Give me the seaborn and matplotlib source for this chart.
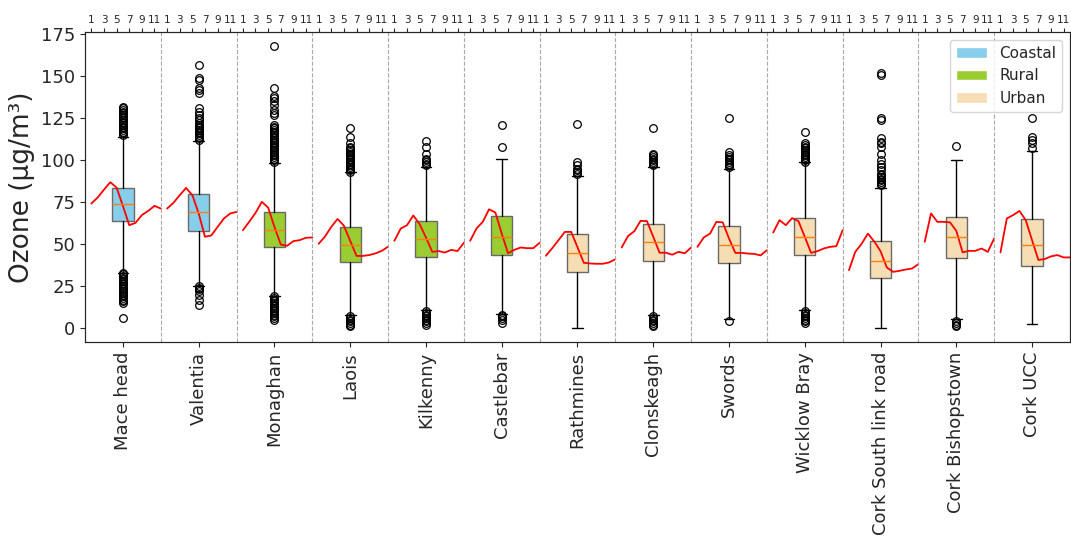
import numpy as np
import pandas as pd
import matplotlib
matplotlib.use("Agg")
import matplotlib.pyplot as plt
from matplotlib.patches import Patch
import seaborn as sns

sns.set_style("ticks")

# Stations and their site type
stations = ['Mace head', 'Valentia', 'Monaghan', 'Laois', 'Kilkenny', 'Castlebar',
            'Rathmines', 'Clonskeagh', 'Swords', 'Wicklow Bray',
            'Cork South link road', 'Cork Bishopstown', 'Cork UCC']
station_type = ['Coastal', 'Coastal', 'Rural', 'Rural', 'Rural', 'Rural',
                'Urban', 'Urban', 'Urban', 'Urban', 'Urban', 'Urban', 'Urban']
type_colors = {'Coastal': 'skyblue', 'Rural': 'yellowgreen', 'Urban': 'wheat'}

# Box summaries (ug/m3)
q1 = [63.7, 58.1, 48.6, 39.5, 42.1, 43.3, 33.5, 39.7, 38.5, 43.3, 29.6, 41.5, 37.1]
med = [74.2, 68.9, 58.3, 49.4, 53.0, 54.4, 44.6, 51.2, 49.6, 54.4, 40.0, 54.0, 49.4]
q3 = [83.5, 79.6, 68.9, 60.5, 63.9, 66.7, 56.3, 62.3, 61.1, 65.3, 52.0, 65.9, 64.7]
whislo = [33.1, 25.2, 19.2, 7.7, 10.5, 8.5, 0.0, 7.5, 5.2, 10.7, 0.0, 5.2, 2.6]
whishi = [114.0, 111.3, 98.4, 92.7, 96.2, 100.8, 90.7, 96.0, 94.8, 98.8, 83.7, 100.4, 105.8]

fliers = [
    [115, 116, 117, 118, 119, 120, 121, 122, 123, 124, 125, 126, 127, 128, 129, 130, 131, 132,
     6, 15, 16, 17, 18, 19, 20, 21, 22, 23, 24, 25, 26, 27, 28, 29, 30, 31, 32, 33],
    [112, 113, 114, 115, 116, 117, 118, 119, 120, 121, 122, 124, 125, 127, 129, 131,
     140, 142, 143, 148, 149, 157, 13.5, 17, 20, 22, 23, 24, 25],
    [99, 100, 101, 102, 103, 104, 105, 106, 107, 108, 109, 110, 111, 112, 113, 114, 115,
     116, 117, 118, 119, 120, 121, 127, 128, 130, 133, 135, 137, 138, 143, 168,
     5, 6, 7, 8, 9, 10, 11, 12, 13, 14, 15, 16, 17, 18, 19],
    [93, 94, 95, 96, 97, 98, 99, 100, 101, 102, 103, 104, 105, 106, 107, 108, 110, 114, 119,
     1.5, 2, 3, 4, 5, 6, 7],
    [97, 98, 99, 100, 101, 104, 108, 111.5, 2, 3, 4, 5, 6, 7, 8, 9, 10],
    [108, 121, 3, 5, 6, 7, 8],
    [92, 93, 94, 95, 97, 99, 121.5],
    [97, 98, 99, 100, 101, 102, 103, 104, 119, 1, 2, 3, 4, 5, 6, 7],
    [96, 97, 98, 99, 100, 101, 102, 103, 105, 125, 4],
    [99, 100, 101, 102, 103, 104, 105, 106, 107, 108, 109, 110, 117,
     3, 4, 5, 6, 7, 8, 9, 10],
    [85, 86, 87, 88, 89, 90, 91, 92, 94, 96, 98, 100, 104, 108, 110, 111, 113, 124, 125, 150.5, 152],
    [108.5, 1, 2, 3, 4],
    [107, 110, 112, 114, 125],
]

# Monthly mean ozone, Jan..Dec, per station
monthly_means = [
    [74.2, 77.8, 82.5, 86.9, 83.7, 72.8, 61.3, 62.7, 67.3, 69.8, 72.8, 71.2],
    [71.2, 74.6, 79.2, 83.5, 79.2, 68.3, 54.4, 55.2, 60.3, 65.3, 68.3, 69.2],
    [58.3, 63.3, 68.6, 75.2, 71.8, 60.3, 49.8, 49.0, 51.8, 52.4, 53.8, 54.0],
    [50.2, 54.5, 60.3, 65.0, 61.0, 52.0, 43.0, 43.0, 43.5, 44.5, 46.0, 48.5],
    [52.0, 59.3, 61.3, 67.1, 61.9, 54.0, 45.4, 45.9, 45.0, 46.6, 45.9, 50.8],
    [52.0, 59.3, 63.3, 70.8, 68.8, 56.3, 44.6, 46.6, 48.0, 47.6, 47.6, 50.8],
    [43.1, 47.6, 52.4, 57.3, 57.3, 48.2, 38.9, 38.5, 38.3, 38.3, 39.1, 41.0],
    [48.0, 54.8, 57.7, 63.9, 63.7, 54.4, 44.9, 44.9, 43.7, 45.4, 44.6, 48.0],
    [48.4, 54.0, 56.3, 63.3, 63.0, 53.4, 44.8, 44.8, 44.4, 44.2, 43.3, 46.4],
    [56.9, 64.3, 61.3, 65.5, 63.7, 54.4, 44.8, 45.8, 47.4, 48.4, 48.8, 58.3],
    [34.5, 45.4, 50.2, 56.3, 51.6, 45.8, 36.1, 33.5, 34.1, 34.9, 35.5, 38.1],
    [51.4, 68.3, 63.3, 63.3, 63.0, 58.0, 45.1, 46.0, 46.0, 47.4, 45.4, 53.4],
    [45.1, 65.3, 67.3, 69.8, 64.3, 52.4, 40.6, 41.1, 42.7, 43.5, 42.1, 42.1],
]
months = list(range(1, 13))
month_labels = [1, 3, 5, 7, 9, 11]

fig, ax = plt.subplots(figsize=(10.71, 5.38), dpi=100)
fig.subplots_adjust(left=0.0794, right=0.999, bottom=0.364, top=0.9405)

# boxplots from the summary stats
stats = []
for i, name in enumerate(stations):
    stats.append(dict(label=name, q1=q1[i], med=med[i], q3=q3[i],
                      whislo=whislo[i], whishi=whishi[i], fliers=fliers[i]))
bp = ax.bxp(stats, positions=range(len(stations)), widths=0.28, patch_artist=True,
            boxprops=dict(edgecolor='dimgray', linewidth=1),
            medianprops=dict(color='tab:orange', linewidth=1),
            whiskerprops=dict(color='black', linewidth=1),
            capprops=dict(color='black', linewidth=1),
            flierprops=dict(marker='o', markerfacecolor='none', markeredgecolor='black',
                            markersize=5.5, markeredgewidth=0.9))
for patch, t in zip(bp['boxes'], station_type):
    patch.set_facecolor(type_colors[t])

# monthly mean lines, one per station, spread across each station's slot
rows = []
for i, name in enumerate(stations):
    for m, v in zip(months, monthly_means[i]):
        rows.append({'station': name, 'pos': i - 0.5 + m / 12, 'ozone': v})
df = pd.DataFrame(rows)
sns.lineplot(data=df, x='pos', y='ozone', units='station', estimator=None,
             color='red', linewidth=1.3, ax=ax, legend=False)

for k in range(len(stations) - 1):
    ax.axvline(k + 0.5, color='darkgray', linestyle='--', linewidth=0.8)

ax.set_xlim(-0.5, len(stations) - 0.5)
ax.set_ylim(-8.4, 176.4)
ax.set_yticks(np.arange(0, 176, 25))
ax.tick_params(axis='y', labelsize=13)
ax.set_xticks(range(len(stations)))
ax.set_xticklabels(stations, rotation=90, fontsize=13)
ax.set_xlabel('')
ax.set_ylabel('Ozone (μg/m³)', fontsize=19)

# month axis on top
top = ax.twiny()
top.set_xlim(ax.get_xlim())
top.set_xticks([i - 0.5 + m / 12 for i in range(len(stations)) for m in month_labels])
top.set_xticklabels([str(m) for i in range(len(stations)) for m in month_labels])
top.tick_params(axis='x', labelsize=7.5, length=3, pad=2)

handles = [Patch(facecolor=type_colors[t], label=t) for t in ['Coastal', 'Rural', 'Urban']]
ax.legend(handles=handles, loc='upper right', fontsize=11)

fig.savefig('out.png', dpi=100)
